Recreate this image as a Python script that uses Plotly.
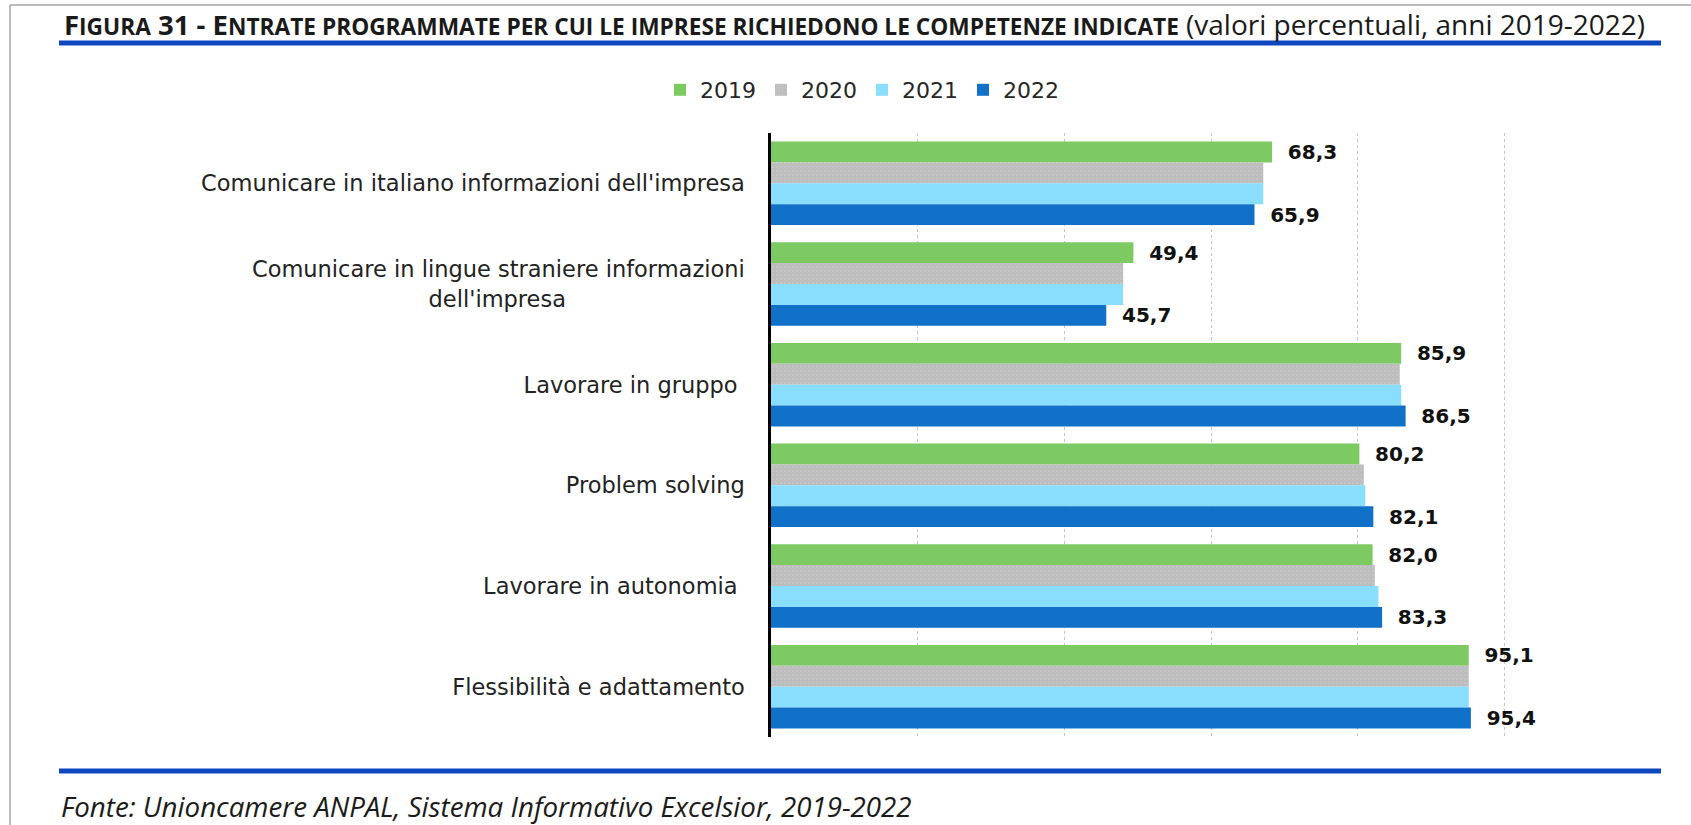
import plotly.graph_objects as go

# ---------------- data ----------------
categories = [
    "Comunicare in italiano informazioni dell'impresa",
    "Comunicare in lingue straniere informazioni<br>dell'impresa" + "\u00a0" * 25,
    "Lavorare in gruppo\u00a0",
    "Problem solving",
    "Lavorare in autonomia\u00a0",
    "Flessibilità e adattamento",
]
years = ["2019", "2020", "2021", "2022"]
v2019 = [68.3, 49.4, 85.9, 80.2, 82.0, 95.1]
v2020 = [67.1, 48.0, 85.7, 80.8, 82.3, 95.1]
v2021 = [67.1, 48.0, 85.9, 81.0, 82.8, 95.1]
v2022 = [65.9, 45.7, 86.5, 82.1, 83.3, 95.4]
labelled = [True, False, False, True]

title_big = ["F", "31 - E"]
title_small = ["IGURA", "NTRATE PROGRAMMATE PER CUI LE IMPRESE RICHIEDONO LE COMPETENZE INDICATE"]
title_sub = "(valori percentuali, anni 2019-2022)"
source = "Fonte: Unioncamere ANPAL, Sistema Informativo Excelsior, 2019-2022"

# ---------------- geometry ----------------
W, H = 1691, 825
L, R, T, B = 771, 157, 133, 88
PW, PH = W - L - R, H - T - B


def px(x):
    return (x - L) / PW


def py(y):
    return (H - B - y) / PH


colors = ["#7DCA63", "#BDBDBD", "#88DEFC", "#1170C8"]
series = [v2019, v2020, v2021, v2022]

fig = go.Figure()
for yr, vals, col, lab in zip(years, series, colors, labelled):
    kw = {}
    if lab:
        kw = dict(
            texttemplate="\u00a0\u00a0<b>%{x:.1f}</b>",
            textposition="outside",
            textfont=dict(family="DejaVu Sans", size=20, color="#111111"),
            constraintext="none",
            cliponaxis=False,
        )
    marker = dict(color=col, line=dict(width=0))
    if yr == "2020":
        marker["pattern"] = dict(shape=".", fgcolor="#D0D0D0", bgcolor=col, size=4, solidity=0.2)
    fig.add_trace(go.Bar(
        y=categories, x=vals, name=yr, orientation="h",
        marker=marker, hoverinfo="x+name", **kw,
    ))

SMALL = 22.7
title_html = (
    "<b>" + title_big[0] + f"<span style='font-size:{SMALL}px'>{title_small[0]}</span> "
    + title_big[1] + f"<span style='font-size:{SMALL}px'>{title_small[1]}</span></b> "
    + f"<span style='font-size:28px'>{title_sub}</span>"
)

fig.update_layout(
    width=W, height=H,
    margin=dict(l=L, r=R, t=T, b=B, pad=0),
    paper_bgcolor="white", plot_bgcolor="white",
    barmode="group", bargap=0.17, bargroupgap=0,
    separators=",.",
    font=dict(family="DejaVu Sans", size=21, color="#222222"),
    showlegend=True,
    legend=dict(
        orientation="h", x=px(660), y=py(90), xanchor="left", yanchor="middle",
        font=dict(family="DejaVu Sans", size=22, color="#262626"),
        bgcolor="rgba(0,0,0,0)", traceorder="normal",
    ),
    xaxis=dict(
        range=[0, 104], showticklabels=False, ticks="",
        tickmode="linear", tick0=0, dtick=20,
        showgrid=True, gridcolor="#C4C4C4", gridwidth=1, griddash="dot",
        zeroline=False, showline=False, fixedrange=True,
    ),
    yaxis=dict(
        autorange="reversed", showline=True, linecolor="#000000", linewidth=2.5,
        ticks="", showgrid=False, ticklabelstandoff=19,
        tickfont=dict(family="DejaVu Sans", size=22.5, color="#222222"),
        fixedrange=True,
    ),
    annotations=[
        dict(text=title_html, xref="paper", yref="paper", x=px(62), y=py(24),
             xanchor="left", yanchor="middle", showarrow=False,
             font=dict(family="Open Sans", size=27.5, color="#1a1a1a")),
        dict(text="<i>" + source + "</i>", xref="paper", yref="paper", x=px(59), y=py(806),
             xanchor="left", yanchor="middle", showarrow=False,
             font=dict(family="Open Sans", size=27.7, color="#1a1a1a")),
    ],
    shapes=[
        dict(type="line", xref="paper", yref="paper", x0=px(59), x1=px(1661), y0=py(43), y1=py(43),
             line=dict(color="#0E46C0", width=5)),
        dict(type="line", xref="paper", yref="paper", x0=px(59), x1=px(1661), y0=py(771), y1=py(771),
             line=dict(color="#0E46C0", width=5)),
        dict(type="line", xref="paper", yref="paper", x0=px(10), x1=px(1691), y0=py(5), y1=py(5),
             line=dict(color="#BBBBBB", width=2)),
        dict(type="line", xref="paper", yref="paper", x0=px(10), x1=px(10), y0=py(5), y1=py(825),
             line=dict(color="#BBBBBB", width=2)),
    ],
)

fig.write_html(
    "out.html",
    config={"displayModeBar": False},
    post_script="document.body.style.margin='0';document.body.style.overflow='hidden';",
)
